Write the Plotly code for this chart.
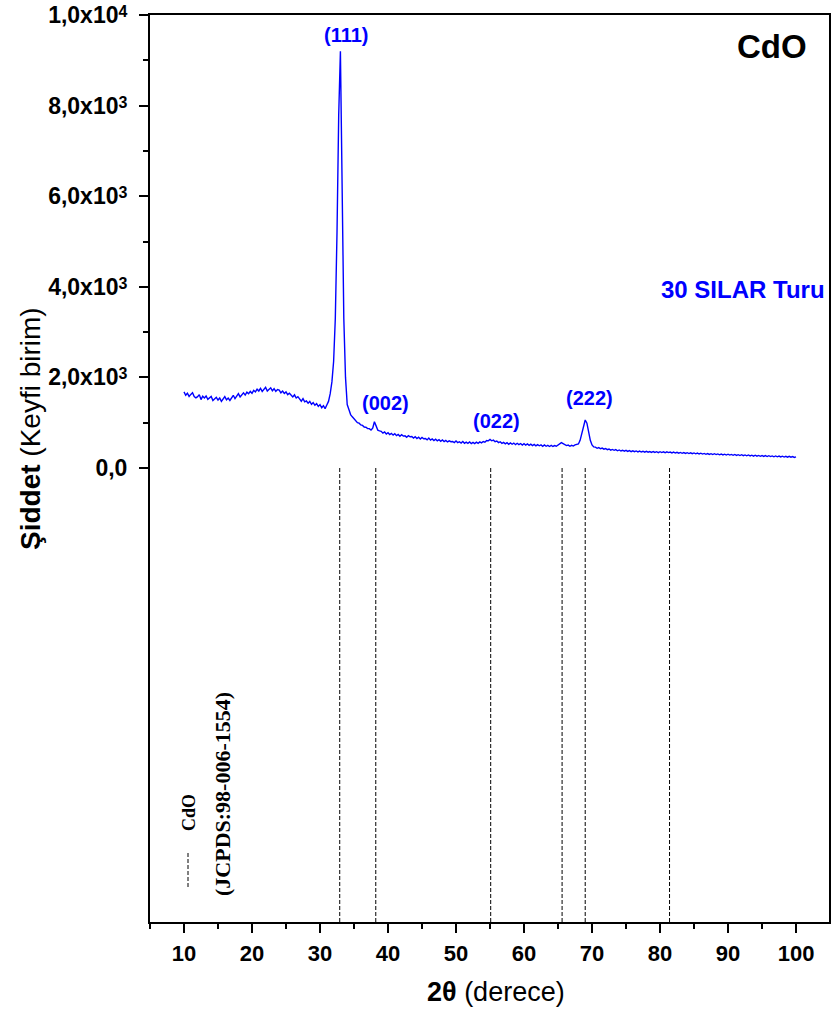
import numpy as np
import plotly.graph_objects as go

# 2-theta grid (degrees), 0.25 deg step from 10 to 100
two_theta = np.round(np.arange(10.0, 100.0001, 0.25), 2)

# Measured XRD intensity (a.u.), 4 samples per degree
intensity = [
    1680, 1605, 1650, 1580,   # 10
    1625, 1660, 1575, 1550,   # 11
    1575, 1620, 1510, 1585,   # 12
    1545, 1590, 1515, 1555,   # 13
    1580, 1490, 1535, 1560,   # 14
    1500, 1545, 1470, 1530,   # 15
    1575, 1505, 1545, 1490,   # 16
    1560, 1605, 1530, 1590,   # 17
    1640, 1570, 1615, 1660,   # 18
    1610, 1675, 1640, 1690,   # 19
    1650, 1715, 1680, 1740,   # 20
    1700, 1760, 1690, 1735,   # 21
    1780, 1700, 1745, 1770,   # 22
    1705, 1750, 1690, 1730,   # 23
    1720, 1660, 1700, 1645,   # 24
    1680, 1620, 1650, 1600,   # 25
    1570, 1615, 1545, 1575,   # 26
    1520, 1475, 1530, 1460,   # 27
    1480, 1430, 1470, 1405,   # 28
    1445, 1385, 1420, 1360,   # 29
    1400, 1330, 1375, 1310,   # 30
    1390, 1470, 1640, 1900,   # 31
    2350, 3300, 5200, 7800,   # 32
    9200, 6100, 3300, 2000,   # 33
    1400, 1290, 1180, 1130,   # 34
    1080, 1050, 1000, 990,    # 35
    950, 940, 905, 900,       # 36
    870, 870, 840, 880,       # 37
    1020, 930, 835, 820,      # 38
    810, 770, 795, 750,       # 39
    780, 740, 765, 725,       # 40
    755, 715, 740, 700,       # 41
    735, 705, 710, 680,       # 42
    715, 690, 695, 660,       # 43
    690, 650, 680, 640,       # 44
    675, 645, 650, 620,       # 45
    660, 615, 640, 605,       # 46
    635, 600, 625, 590,       # 47
    620, 585, 610, 575,       # 48
    600, 580, 585, 560,       # 49
    595, 560, 580, 550,       # 50
    585, 545, 570, 545,       # 51
    575, 540, 565, 540,       # 52
    570, 545, 575, 555,       # 53
    585, 570, 605, 600,       # 54
    630, 600, 615, 580,       # 55
    595, 560, 580, 545,       # 56
    565, 535, 560, 525,       # 57
    555, 525, 550, 515,       # 58
    545, 515, 540, 505,       # 59
    535, 505, 530, 500,       # 60
    525, 495, 520, 490,       # 61
    515, 490, 510, 480,       # 62
    510, 480, 500, 475,       # 63
    500, 475, 495, 480,       # 64
    510, 535, 560, 540,       # 65
    525, 495, 505, 480,       # 66
    500, 485, 510, 520,       # 67
    530, 610, 760, 960,       # 68
    1060, 990, 790, 610,      # 69
    510, 465, 460, 435,       # 70
    450, 425, 440, 415,       # 71
    430, 405, 420, 395,       # 72
    410, 390, 405, 380,       # 73
    398, 375, 392, 372,       # 74
    390, 366, 383, 362,       # 75
    380, 360, 376, 355,       # 76
    374, 353, 370, 350,       # 77
    368, 348, 363, 343,       # 78
    364, 345, 360, 340,       # 79
    360, 341, 357, 337,       # 80
    358, 340, 352, 333,       # 81
    350, 331, 346, 327,       # 82
    344, 325, 340, 321,       # 83
    338, 319, 334, 315,       # 84
    332, 313, 328, 309,       # 85
    326, 307, 322, 303,       # 86
    320, 301, 316, 297,       # 87
    315, 296, 311, 291,       # 88
    309, 290, 305, 286,       # 89
    304, 285, 300, 280,       # 90
    299, 279, 294, 275,       # 91
    293, 273, 289, 269,       # 92
    288, 268, 283, 263,       # 93
    282, 262, 278, 258,       # 94
    276, 257, 273, 253,       # 95
    271, 252, 267, 248,       # 96
    266, 247, 262, 243,       # 97
    261, 242, 257, 238,       # 98
    256, 238, 252, 234,       # 99
    245,                      # 100
]

# Reference pattern positions for CdO (JCPDS 98-006-1554)
ref_positions = [32.9, 38.2, 55.1, 65.6, 69.0, 81.4]

# Miller index labels and their anchor points
peak_labels = ["(111)", "(002)", "(022)", "(222)"]
peak_label_x = [33.8, 39.7, 56.0, 69.7]
peak_label_y = [9560, 1435, 1040, 1545]

# Axis ticks (mantissa and exponent of each intensity label)
x_ticks = [10, 20, 30, 40, 50, 60, 70, 80, 90, 100]
y_ticks = [0, 2000, 4000, 6000, 8000, 10000]
y_mantissa = ["0,0", "2,0x10", "4,0x10", "6,0x10", "8,0x10", "1,0x10"]
y_exponent = ["", "3", "3", "3", "3", "4"]
y_minor = [1000, 3000, 5000, 7000, 9000]

SUP_STYLE = "font-size:16px;baseline-shift:6px"
y_tick_text = [m + (f"<span style='{SUP_STYLE}'>{e}</span>" if e else "")
               for m, e in zip(y_mantissa, y_exponent)]

Y_MIN, Y_MAX = -10022, 10000
X_MIN, X_MAX = 5.0, 104.85

BLUE = "#0000ff"
SANS = "Liberation Sans, Arial, sans-serif"
SERIF = "Liberation Serif, Times New Roman, serif"

fig = go.Figure()

# Reference lines below the zero level
ref_x, ref_y = [], []
for p in ref_positions:
    ref_x += [p, p, None]
    ref_y += [0, Y_MIN, None]
fig.add_trace(go.Scatter(x=ref_x, y=ref_y, mode="lines",
                         line=dict(color="black", width=1, dash="4px,2px"),
                         hoverinfo="skip", showlegend=False))

# Diffraction pattern
fig.add_trace(go.Scatter(x=two_theta, y=intensity, mode="lines",
                         line=dict(color=BLUE, width=1.4),
                         showlegend=False))

for lab, lx, ly in zip(peak_labels, peak_label_x, peak_label_y):
    fig.add_annotation(x=lx, y=ly, text=f"<b>{lab}</b>", showarrow=False,
                       font=dict(family=SANS, size=20, color=BLUE),
                       xanchor="center", yanchor="middle")

L, R, T, B = 150, 2, 15, 92
W, H = 831, 1014
PW, PH = W - L - R, H - T - B


def px(x):
    return (x - L) / PW


def py(y):
    return (H - B - y) / PH


# Labels inside the frame
fig.add_annotation(xref="paper", yref="paper", x=px(772), y=py(46), text="<b>CdO</b>",
                   showarrow=False, font=dict(family=SANS, size=33, color="black"),
                   xanchor="center", yanchor="middle")
fig.add_annotation(xref="paper", yref="paper", x=px(743), y=py(290),
                   text="<b>30 SILAR Turu</b>", showarrow=False,
                   font=dict(family=SANS, size=24, color=BLUE),
                   xanchor="center", yanchor="middle")

# Reference pattern key (rotated)
fig.add_annotation(xref="paper", yref="paper", x=px(189), y=py(813), text="<b>CdO</b>",
                   textangle=-90, showarrow=False,
                   font=dict(family=SERIF, size=18, color="black"),
                   xanchor="center", yanchor="middle")
fig.add_annotation(xref="paper", yref="paper", x=px(222), y=py(794),
                   text="<b>(JCPDS:98-006-1554)</b>", textangle=-90, showarrow=False,
                   font=dict(family=SERIF, size=22, color="black"),
                   xanchor="center", yanchor="middle")
fig.add_shape(type="line", xref="paper", yref="paper",
              x0=px(188), x1=px(188), y0=py(853), y1=py(887),
              line=dict(color="black", width=1, dash="4px,2px"))

# Axis titles
fig.add_annotation(xref="paper", yref="paper", x=px(496), y=py(992),
                   text="<b>2\u03b8</b> (derece)", showarrow=False,
                   font=dict(family=SANS, size=27, color="black"),
                   xanchor="center", yanchor="middle")
fig.add_annotation(xref="paper", yref="paper", x=px(30), y=py(428),
                   text="<b>\u015eiddet</b> (Keyfi birim)", textangle=-90, showarrow=False,
                   font=dict(family=SANS, size=28, color="black"),
                   xanchor="center", yanchor="middle")

fig.update_layout(
    width=W, height=H,
    margin=dict(l=L, r=R, t=T, b=B, autoexpand=False),
    paper_bgcolor="white", plot_bgcolor="white",
    xaxis=dict(range=[X_MIN, X_MAX], tickvals=x_ticks, ticks="outside",
               ticklen=9, tickwidth=2, tickcolor="black", automargin=False,
               showline=True, linewidth=2, linecolor="black", mirror=True,
               showgrid=False, zeroline=False, ticklabelstandoff=2,
               ticklabeloverflow="allow",
               tickfont=dict(family=SANS, size=22, color="black", weight="bold"),
               minor=dict(dtick=5, tick0=5, ticks="outside", ticklen=5,
                          tickwidth=2, tickcolor="black")),
    yaxis=dict(range=[Y_MIN, Y_MAX], tickvals=y_ticks, ticktext=y_tick_text,
               ticks="outside", ticklen=9, tickwidth=2, tickcolor="black",
               automargin=False,
               showline=True, linewidth=2, linecolor="black", mirror=True,
               showgrid=False, zeroline=False, ticklabelstandoff=7,
               ticklabeloverflow="allow",
               tickfont=dict(family=SANS, size=23, color="black", weight="bold"),
               minor=dict(tickvals=y_minor, ticks="outside", ticklen=5,
                          tickwidth=2, tickcolor="black")),
)

fig.write_html("out.html")
